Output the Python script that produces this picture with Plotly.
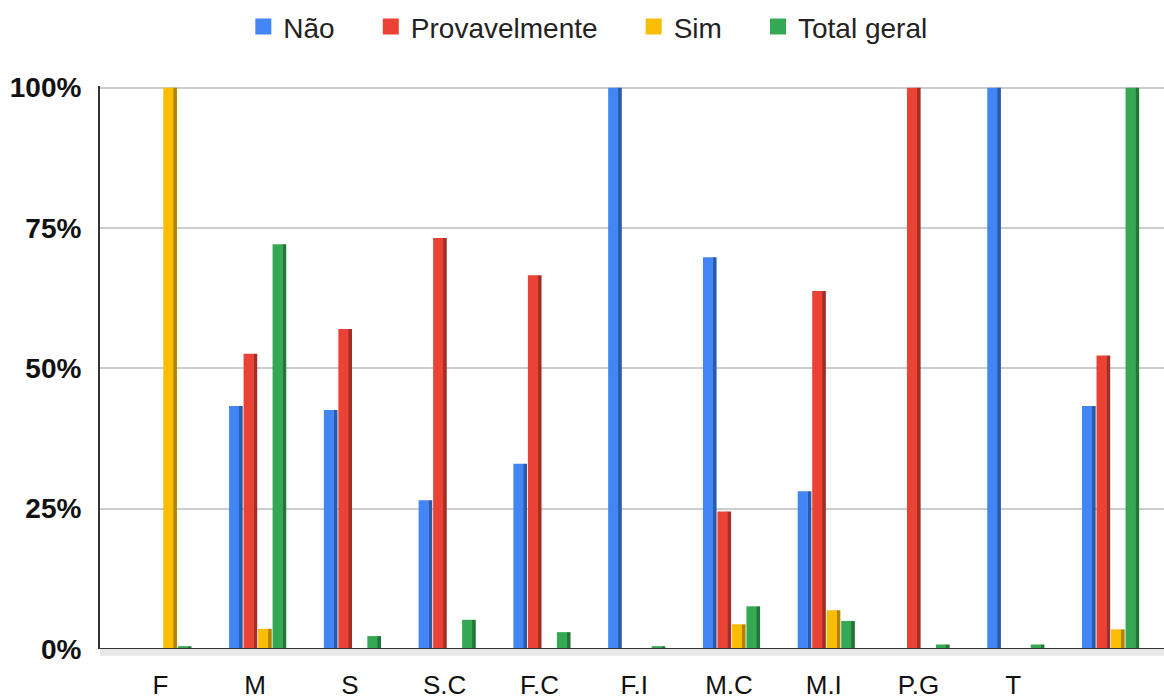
import plotly.graph_objects as go

categories = ["F", "M", "S", "S.C", "F.C", "F.I", "M.C", "M.I", "P.G", "T", ""]
nao = [0, 43.3, 42.6, 26.5, 33.0, 100, 69.8, 28.1, 0, 100, 43.3]
provavelmente = [0, 52.6, 57.0, 73.2, 66.6, 0, 24.5, 63.8, 100, 0, 52.3]
sim = [100, 3.6, 0, 0, 0, 0, 4.4, 6.9, 0, 0, 3.5]
total_geral = [0.5, 72.1, 2.3, 5.2, 3.0, 0.5, 7.6, 5.0, 0.8, 0.8, 100]

series = [
    ("Não", nao, "#4285F4", "#2B5AA8"),
    ("Provavelmente", provavelmente, "#EA4335", "#A32E25"),
    ("Sim", sim, "#FBBC04", "#B08400"),
    ("Total geral", total_geral, "#34A853", "#23763A"),
]

x = list(range(len(categories)))
fig = go.Figure()

front_w = 0.106
side_w = 0.042
step = 0.153
start = -0.275
pad = "\u00a0" * 4
for i, (name, vals, col, dark) in enumerate(series):
    off = start + i * step
    fig.add_trace(go.Bar(
        x=x, y=vals, name=name, marker=dict(color=dark, line=dict(width=0)),
        width=side_w, offset=off + front_w - 0.004, showlegend=False, hoverinfo="skip"))
    fig.add_trace(go.Bar(
        x=x, y=vals, name=name, marker=dict(color=col, line=dict(width=0)),
        width=front_w, offset=off, showlegend=False))
    # legend entry
    fig.add_trace(go.Scatter(
        x=[None], y=[None], mode="markers", name=name + (pad if i < 3 else ""),
        marker=dict(symbol="square", size=18, color=col), showlegend=True))

fig.update_layout(
    width=1164, height=699,
    barmode="overlay",
    plot_bgcolor="white", paper_bgcolor="white",
    margin=dict(l=100, r=0, t=86, b=50, autoexpand=False),
    font=dict(family="Liberation Sans, Arial, sans-serif", color="#222222"),
    legend=dict(orientation="h", x=0.505, xref="container", xanchor="center",
                y=1.105, yanchor="middle", font=dict(size=28, color="#222222"),
                traceorder="normal"),
    showlegend=True,
)
fig.update_xaxes(
    range=[-0.637, 10.59], tickvals=x, ticktext=categories,
    tickfont=dict(size=26, color="#111111"), showgrid=False, zeroline=False,
    showline=False, ticks="", ticklabelstandoff=18,
)
fig.update_yaxes(
    range=[0, 100.3], tickvals=[0, 25, 50, 75, 100],
    ticktext=["0%", "25%", "50%", "75%", "100%"],
    tickfont=dict(size=28, color="#111111", family="Liberation Sans, Arial, sans-serif", weight="bold"),
    showgrid=True, gridcolor="#CCCCCC", gridwidth=2, zeroline=False,
    showline=True, linecolor="#333333", linewidth=2, ticks="", ticklabelstandoff=11,
)
# floor band and baseline
fig.add_shape(type="rect", xref="paper", yref="paper", x0=0, x1=1, y0=-0.012, y1=0,
              fillcolor="#E8E8E8", line=dict(width=0), layer="below")
fig.add_shape(type="line", xref="paper", yref="y", x0=0, x1=1, y0=0, y1=0,
              line=dict(color="#333333", width=2))

fig.write_html("out.html", config={"displayModeBar": False},
               post_script="document.body.style.margin='0';")
